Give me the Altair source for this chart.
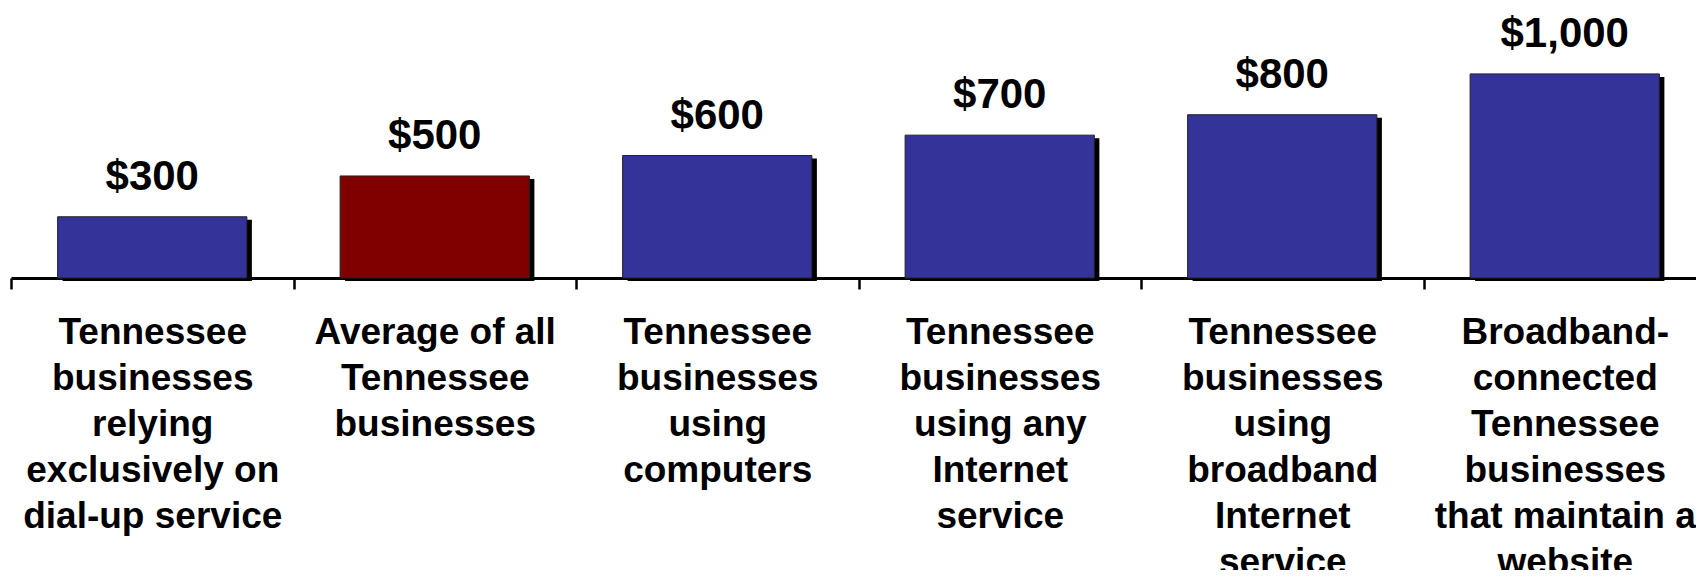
import altair as alt
import pandas as pd

categories = [
    "Tennessee\nbusinesses\nrelying\nexclusively on\ndial-up service",
    "Average of all\nTennessee\nbusinesses",
    "Tennessee\nbusinesses\nusing\ncomputers",
    "Tennessee\nbusinesses\nusing any\nInternet\nservice",
    "Tennessee\nbusinesses\nusing\nbroadband\nInternet\nservice",
    "Broadband-\nconnected\nTennessee\nbusinesses\nthat maintain a\nwebsite",
]
values = [300, 500, 600, 700, 800, 1000]
colors = ["#333399", "#800000", "#333399", "#333399", "#333399", "#333399"]

df = pd.DataFrame({"cat": categories, "value": values, "color": colors})

FONT = "Liberation Sans"

x = alt.X(
    "cat:N",
    sort=None,
    scale=alt.Scale(paddingInner=0, paddingOuter=0, range=[0, 1695]),
    axis=alt.Axis(
        title=None,
        labelAngle=0,
        labelExpr="split(datum.label, '\\n')",
        labelFont=FONT,
        labelFontWeight="bold",
        labelFontSize=37,
        labelLineHeight=46,
        labelColor="black",
        labelAlign="center",
        labelBaseline="top",
        labelPadding=25,
        labelLimit=0,
        labelOverlap=False,
        tickBand="extent",
        tickColor="black",
        tickWidth=2.5,
        tickSize=11,
        domainColor="black",
        domainWidth=3,
        grid=False,
    ),
)
y = alt.Y("value:Q", scale=alt.Scale(domain=[0, 1323], nice=False, zero=True), axis=None)

base = alt.Chart(df)

shadow = base.mark_bar(
    width=alt.RelativeBandSize(0.67), color="black", xOffset=5, yOffset=3, y2Offset=0
).encode(x=x, y=y)

bars = base.mark_bar(
    width=alt.RelativeBandSize(0.67), stroke="#222222", strokeWidth=1
).encode(x=x, y=y, color=alt.Color("color:N", scale=None))

labels = base.mark_text(
    font=FONT, fontWeight="bold", fontSize=42, dy=-27, baseline="alphabetic", color="black"
).encode(x=x, y=y, text=alt.Text("value:Q", format="$,.0f"))

chart = (
    alt.layer(shadow, bars, labels)
    .properties(
        width=1685,
        height=270,
        background="white",
        autosize=alt.AutoSizeParams(type="none"),
        padding={"left": 3, "top": 0, "right": 0, "bottom": 292},
    )
    .configure_view(strokeWidth=0, stroke="transparent")
)

chart.save("out.html", embed_options={"renderer": "svg", "actions": False})
